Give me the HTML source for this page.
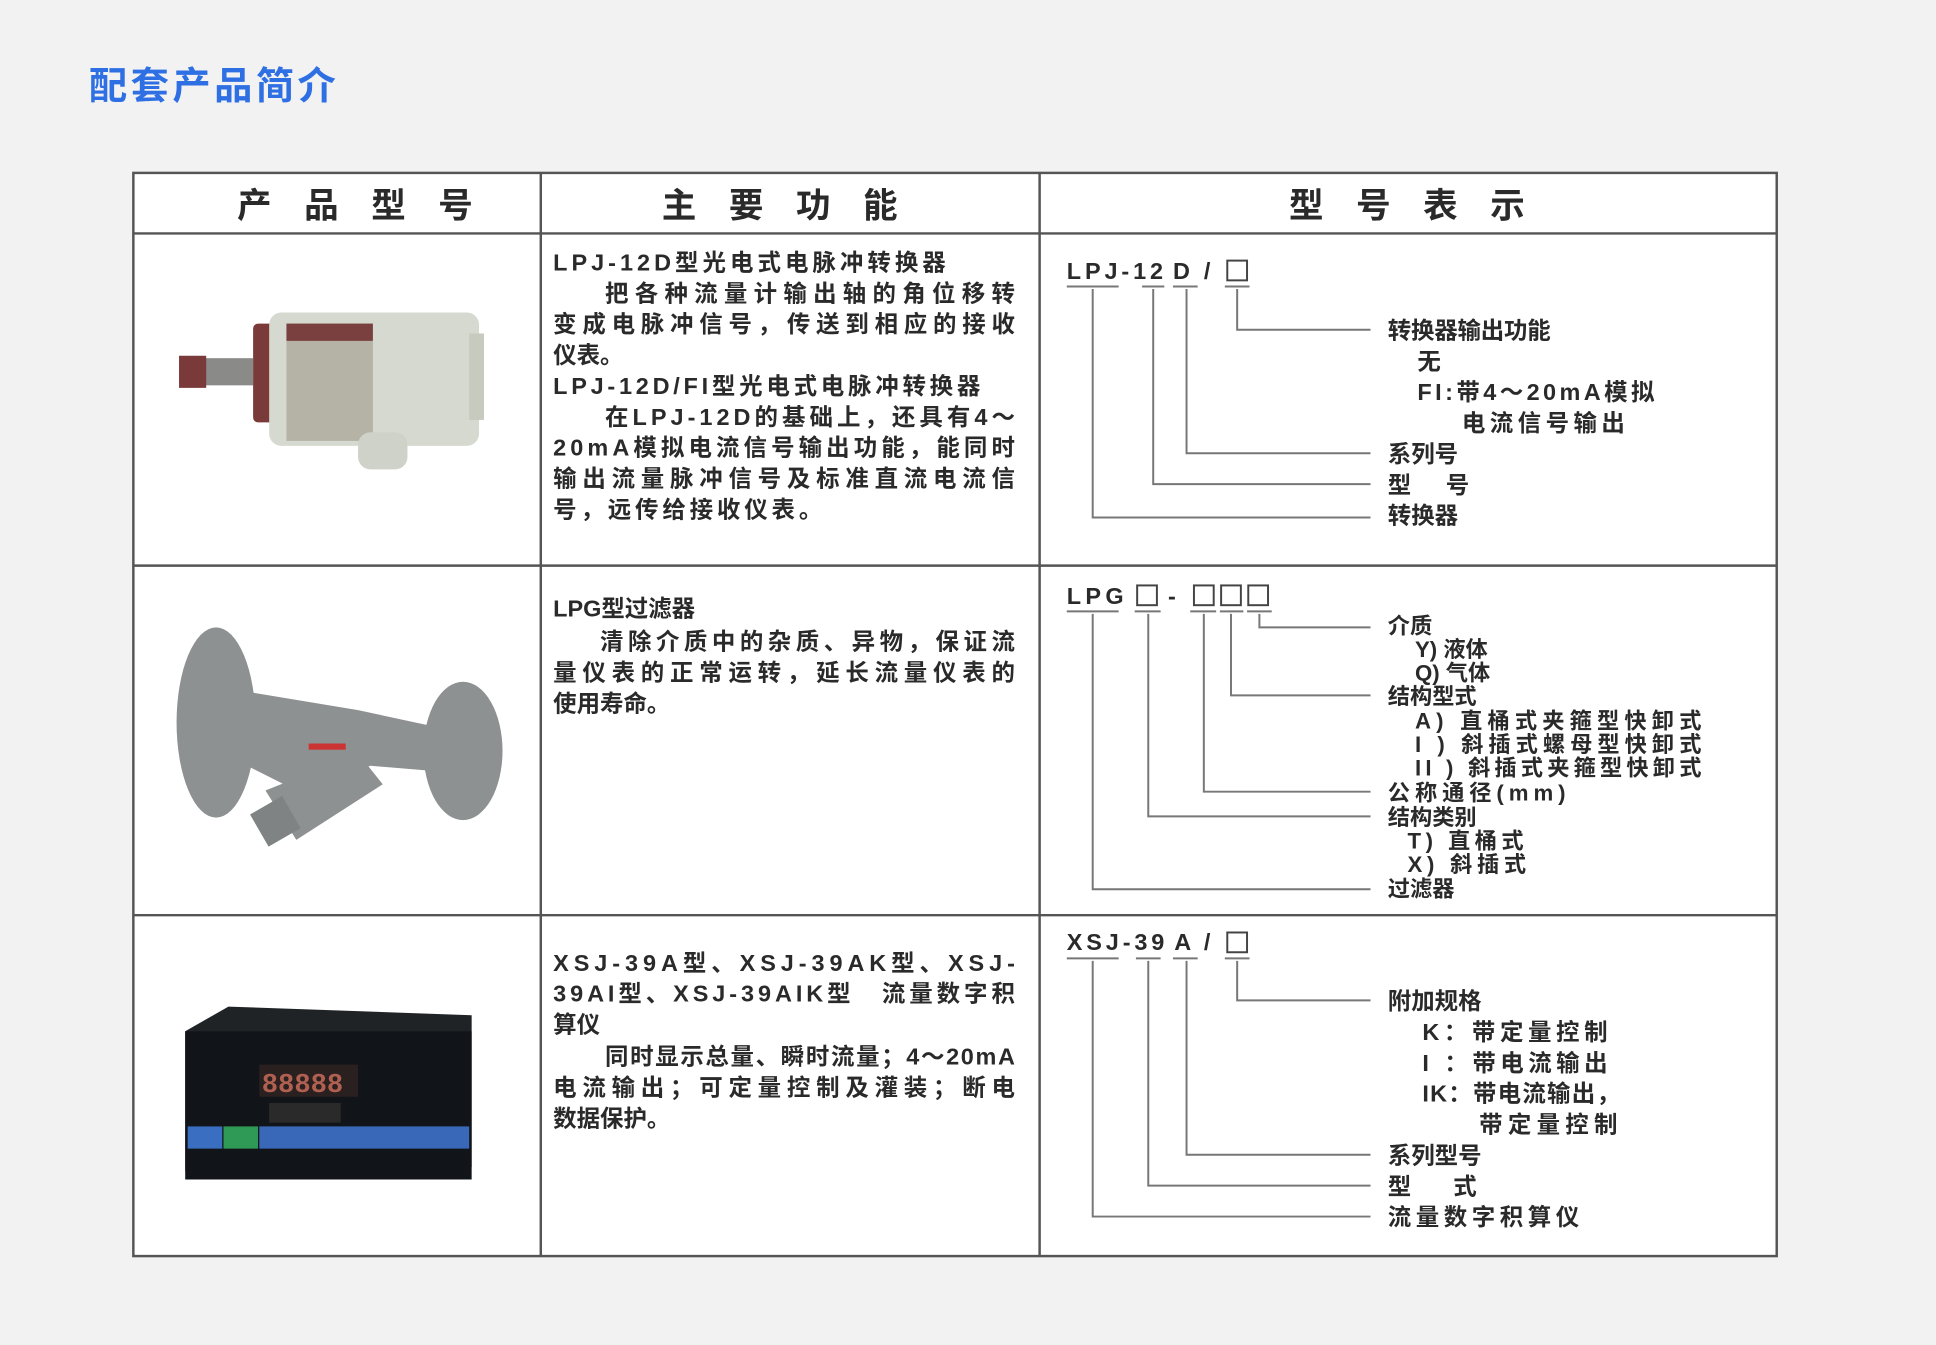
<!DOCTYPE html>
<html><head><meta charset="utf-8"><style>
html,body{margin:0;padding:0;background:#f2f2f2;}
svg{display:block;}
text{font-family:"Liberation Sans","Noto Sans CJK SC",sans-serif;font-weight:bold;fill:#2a2a2a;}
</style></head><body>
<svg width="1936" height="1345" viewBox="0 0 1568 1089" preserveAspectRatio="none" xmlns="http://www.w3.org/2000/svg">
<rect width="1568" height="1089" fill="#f2f2f2"/>
<text x="72" y="80" textLength="200" style="font-size:31px;fill:#2f6fe4;font-weight:bold">配套产品简介</text>
<rect x="108" y="140" width="1331" height="877" fill="#fff" stroke="#555" stroke-width="2"/>
<g stroke="#555" stroke-width="2">
<line x1="108" y1="189" x2="1439" y2="189"/>
<line x1="108" y1="458" x2="1439" y2="458"/>
<line x1="108" y1="741" x2="1439" y2="741"/>
<line x1="438" y1="140" x2="438" y2="1017"/>
<line x1="842" y1="140" x2="842" y2="1017"/>
</g>
<g style="font-size:28px">
<text x="192" y="176" textLength="191">产　品　型　号</text>
<text x="536" y="176" textLength="191">主　要　功　能</text>
<text x="1044" y="176" textLength="191">型　号　表　示</text>
</g>
<g style="font-size:19px">
<text x="448" y="219" textLength="318">LPJ-12D型光电式电脉冲转换器</text>
<text x="490" y="244" textLength="332">把各种流量计输出轴的角位移转</text>
<text x="448" y="269" textLength="374">变成电脉冲信号，传送到相应的接收</text>
<text x="448" y="294">仪表。</text>
<text x="448" y="319" textLength="346">LPJ-12D/FI型光电式电脉冲转换器</text>
<text x="490" y="344" textLength="332">在LPJ-12D的基础上，还具有4～</text>
<text x="448" y="369" textLength="374">20mA模拟电流信号输出功能，能同时</text>
<text x="448" y="394" textLength="374">输出流量脉冲信号及标准直流电流信</text>
<text x="448" y="419" textLength="218">号，远传给接收仪表。</text>

<text x="448" y="499">LPG型过滤器</text>
<text x="486" y="526" textLength="336">清除介质中的杂质、异物，保证流</text>
<text x="448" y="551" textLength="374">量仪表的正常运转，延长流量仪表的</text>
<text x="448" y="576">使用寿命。</text>

<text x="448" y="786" textLength="374">XSJ-39A型、XSJ-39AK型、XSJ-</text>
<text x="448" y="811" textLength="374">39AI型、XSJ-39AIK型　流量数字积</text>
<text x="448" y="836">算仪</text>
<text x="490" y="862" textLength="332">同时显示总量、瞬时流量；4～20mA</text>
<text x="448" y="887" textLength="374">电流输出；可定量控制及灌装；断电</text>
<text x="448" y="912">数据保护。</text>
</g>
<g fill="none" stroke="#444" stroke-width="1.6">
<rect x="994" y="211" width="16" height="16"/>
<rect x="921" y="474" width="16" height="16"/>
<rect x="967" y="474" width="16" height="16"/>
<rect x="989" y="474" width="16" height="16"/>
<rect x="1011" y="474" width="16" height="16"/>
<rect x="994" y="755" width="16" height="16"/>
</g>
<g style="font-size:19px">
<text x="864" y="226" textLength="78">LPJ-12</text>
<text x="950" y="226">D</text>
<text x="975" y="226">/</text>
<text x="1124" y="274" textLength="132">转换器输出功能</text>
<text x="1148" y="299">无</text>
<text x="1148" y="324" textLength="192">FI:带4～20mA模拟</text>
<text x="1184" y="349" textLength="132">电流信号输出</text>
<text x="1124" y="374">系列号</text>
<text x="1124" y="399" textLength="66">型　号</text>
<text x="1124" y="424">转换器</text>
<text x="864" y="489" textLength="46">LPG</text>
<text x="946" y="489">-</text>
<text x="864" y="769" textLength="79">XSJ-39</text>
<text x="951" y="769">A</text>
<text x="975" y="769">/</text>
</g>
<g stroke="#777" stroke-width="1.6" fill="none">
<line x1="864" y1="232" x2="906" y2="232"/><line x1="925" y1="232" x2="943" y2="232"/><line x1="950" y1="232" x2="970" y2="232"/><line x1="992" y1="232" x2="1012" y2="232"/>
<polyline points="1002,234 1002,267 1110,267"/>
<polyline points="961,234 961,367 1110,367"/>
<polyline points="934,234 934,392 1110,392"/>
<polyline points="885,234 885,419 1110,419"/>
</g>
<g style="font-size:18px">
<text x="1124" y="513">介质</text>
<text x="1146" y="532">Y) 液体</text>
<text x="1146" y="551">Q) 气体</text>
<text x="1124" y="570">结构型式</text>
<text x="1146" y="590" textLength="232">A) 直桶式夹箍型快卸式</text>
<text x="1146" y="609" textLength="232">I ) 斜插式螺母型快卸式</text>
<text x="1146" y="628" textLength="232">II ) 斜插式夹箍型快卸式</text>
<text x="1124" y="648" textLength="144">公称通径(mm)</text>
<text x="1124" y="668">结构类别</text>
<text x="1140" y="687" textLength="94">T) 直桶式</text>
<text x="1140" y="706" textLength="96">X) 斜插式</text>
<text x="1124" y="726">过滤器</text>
</g>
<g stroke="#777" stroke-width="1.6" fill="none">
<line x1="864" y1="495" x2="906" y2="495"/><line x1="919" y1="495" x2="940" y2="495"/><line x1="964" y1="495" x2="985" y2="495"/><line x1="988" y1="495" x2="1007" y2="495"/><line x1="1010" y1="495" x2="1030" y2="495"/>
<polyline points="1020,497 1020,508 1110,508"/>
<polyline points="997,497 997,563 1110,563"/>
<polyline points="975,497 975,641 1110,641"/>
<polyline points="930,497 930,661 1110,661"/>
<polyline points="885,497 885,720 1110,720"/>
</g>
<g style="font-size:19px">
<text x="1124" y="817">附加规格</text>
<text x="1152" y="842" textLength="150">K：带定量控制</text>
<text x="1152" y="867" textLength="150">I ：带电流输出</text>
<text x="1152" y="892" textLength="160">IK：带电流输出，</text>
<text x="1198" y="917" textLength="112">带定量控制</text>
<text x="1124" y="942">系列型号</text>
<text x="1124" y="967" textLength="72">型　式</text>
<text x="1124" y="992" textLength="155">流量数字积算仪</text>
</g>
<g stroke="#777" stroke-width="1.6" fill="none">
<line x1="864" y1="776" x2="906" y2="776"/><line x1="920" y1="776" x2="940" y2="776"/><line x1="950" y1="776" x2="970" y2="776"/><line x1="992" y1="776" x2="1012" y2="776"/>
<polyline points="1002,778 1002,810 1110,810"/>
<polyline points="961,778 961,935 1110,935"/>
<polyline points="930,778 930,960 1110,960"/>
<polyline points="885,778 885,985 1110,985"/>
</g>
<g>
<rect x="155" y="290" width="50" height="22" fill="#8a8a88"/>
<path d="M145 288 h22 v26 h-22 z" fill="#7a3a3a"/>
<rect x="205" y="262" width="18" height="80" rx="4" fill="#7a3a3a"/>
<rect x="218" y="253" width="170" height="108" rx="10" fill="#d6d9cf"/>
<rect x="232" y="262" width="70" height="95" fill="#b5b3a6"/>
<rect x="232" y="262" width="70" height="14" fill="#7a4040"/>
<rect x="290" y="350" width="40" height="30" rx="10" fill="#cfd2c8"/>
<rect x="380" y="270" width="12" height="70" fill="#c7cbbf"/>
</g>
<g fill="#8d9192">
<ellipse cx="175" cy="585" rx="32" ry="77"/>
<ellipse cx="375" cy="608" rx="32" ry="56"/>
<path d="M200 560 L290 575 L360 590 L360 625 L300 620 L240 640 L200 620 Z"/>
<path d="M215 640 L290 610 L310 635 L240 680 Z"/>
<rect x="208" y="650" width="30" height="30" transform="rotate(-30 223 665)" fill="#7f8384"/>
<rect x="250" y="602" width="30" height="5" fill="#c33"/>
</g>
<g>
<path d="M150 835 L185 815 L382 822 L382 945 L150 948 Z" fill="#1f2326"/>
<rect x="150" y="835" width="232" height="120" fill="#111418"/>
<rect x="210" y="862" width="80" height="26" fill="#2a2020"/>
<text x="212" y="884" style="font-size:22px;fill:#b06050;font-family:'Liberation Mono',monospace">88888</text>
<rect x="218" y="893" width="58" height="16" fill="#2a2a2a"/>
<rect x="152" y="912" width="28" height="18" fill="#3a6ec0"/>
<rect x="181" y="912" width="28" height="18" fill="#2f9a55"/>
<rect x="210" y="912" width="170" height="18" fill="#3a68b8"/>
</g>
</svg>
</body></html>
